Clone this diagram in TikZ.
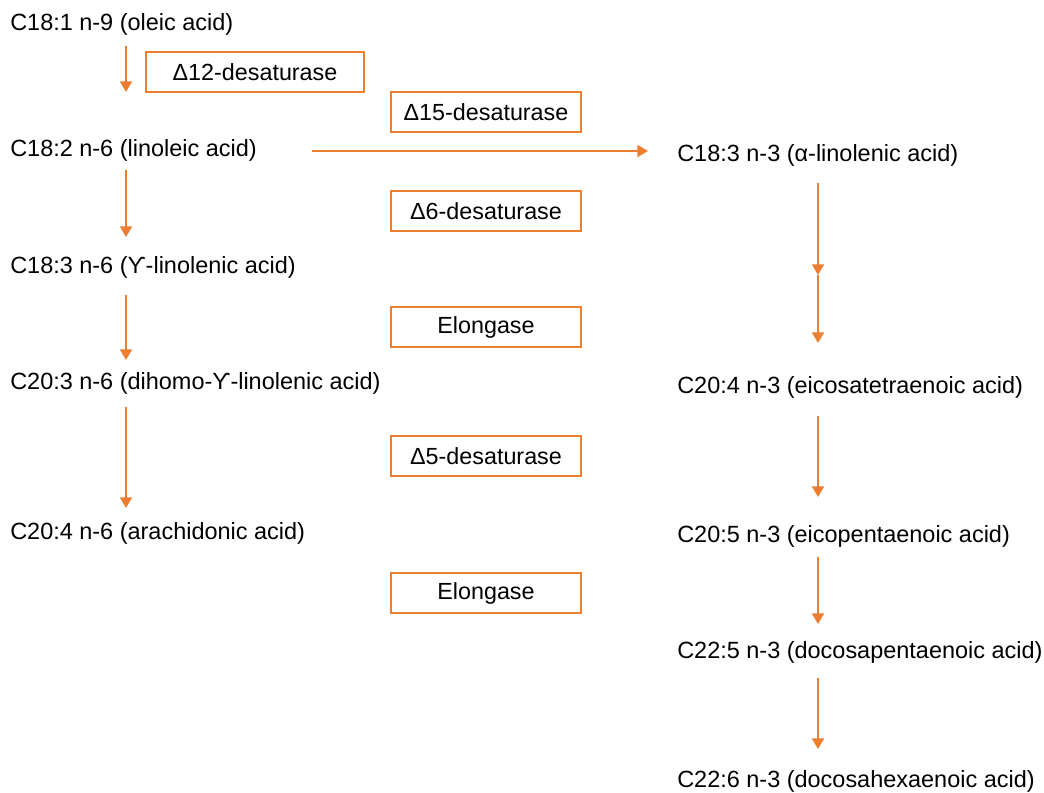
\documentclass[tikz,border=0pt]{standalone}
\usepackage{fontspec}
\setmainfont{Liberation Sans}
\usetikzlibrary{arrows.meta}
\definecolor{accent}{RGB}{237,125,49}
\tikzset{
  acid/.style    = {anchor=west, inner sep=0pt, font=\fontsize{17.6}{21}\selectfont},
  enzyme/.style  = {draw=accent, line width=1.5pt, inner sep=0pt,
                    minimum width=143pt, minimum height=30pt,
                    font=\fontsize{17.5}{21}\selectfont},
  flow/.style    = {draw=accent, line width=1.5pt,
                    -{Triangle[width=9pt,length=8pt]}}
}
\begin{document}
\begin{tikzpicture}[x=0.75pt, y=-0.75pt]
\useasboundingbox (0,0) rectangle (1044,792);

% omega-6 branch
\node [acid] (oleic)    at (10,24)  {C18:1 n-9 (oleic acid)};
\node [acid] (linoleic) at (10,150) {C18:2 n-6 (linoleic acid)};
\node [acid] (gla)      at (10,267) {C18:3 n-6 (ϒ-linolenic acid)};
\node [acid] (dgla)     at (10,383) {C20:3 n-6 (dihomo-ϒ-linolenic acid)};
\node [acid] (ara)      at (10,533) {C20:4 n-6 (arachidonic acid)};

% omega-3 branch
\node [acid] (ala)  at (677,155) {C18:3 n-3 (α-linolenic acid)};
\node [acid] (eta)  at (677,387) {C20:4 n-3 (eicosatetraenoic acid)};
\node [acid] (epa)  at (677,536) {C20:5 n-3 (eicopentaenoic acid)};
\node [acid] (dpa)  at (677,652) {C22:5 n-3 (docosapentaenoic acid)};
\node [acid] (dha)  at (677,781) {C22:6 n-3 (docosahexaenoic acid)};

% enzymes
\node [enzyme, minimum width=163pt] (d12) at (255,72) {Δ12-desaturase};
\node [enzyme] (d15)  at (486,112) {Δ15-desaturase};
\node [enzyme] (d6)   at (486,211) {Δ6-desaturase};
\node [enzyme] (elo1) at (486,327) {Elongase};
\node [enzyme] (d5)   at (486,456) {Δ5-desaturase};
\node [enzyme] (elo2) at (486,593) {Elongase};

% arrow ends
\coordinate (l1a) at (126,46);  \coordinate (l1b) at (126,92);
\coordinate (l2a) at (126,170); \coordinate (l2b) at (126,237);
\coordinate (l3a) at (126,295); \coordinate (l3b) at (126,360);
\coordinate (l4a) at (126,407); \coordinate (l4b) at (126,508);
\coordinate (ha)  at (312,151); \coordinate (hb)  at (648,151);
\coordinate (r1a) at (818,183); \coordinate (r1b) at (818,275);
\coordinate (r2b) at (818,343);
\coordinate (r3a) at (818,416); \coordinate (r3b) at (818,497);
\coordinate (r4a) at (818,557); \coordinate (r4b) at (818,624);
\coordinate (r5a) at (818,678); \coordinate (r5b) at (818,749);

\draw [flow] (l1a) -- (l1b);
\draw [flow] (l2a) -- (l2b);
\draw [flow] (l3a) -- (l3b);
\draw [flow] (l4a) -- (l4b);
\draw [flow] (ha) -- (hb);
\draw [flow] (r1a) -- (r1b);
\draw [flow] (r1b) -- (r2b);
\draw [flow] (r3a) -- (r3b);
\draw [flow] (r4a) -- (r4b);
\draw [flow] (r5a) -- (r5b);
\end{tikzpicture}
\end{document}
